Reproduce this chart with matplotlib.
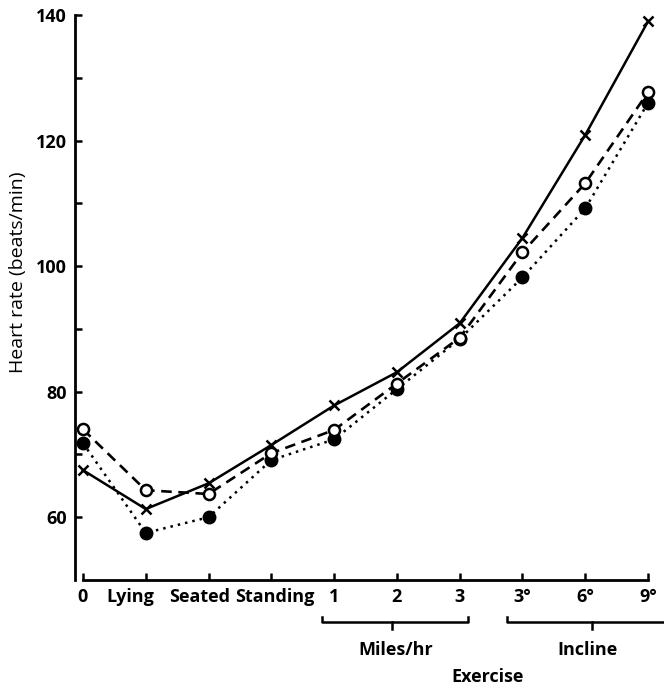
import matplotlib
matplotlib.use("Agg")
import matplotlib.pyplot as plt
import matplotlib.transforms as mtransforms
import numpy as np

# categories along the x axis
categories = ["0", "Lying", "Seated", "Standing", "1", "2", "3", "3°", "6°", "9°"]

# heart rate (beats/min)
rate_cross = [67.5, 61.3, 65.4, 71.5, 77.8, 83.1, 90.9, 104.5, 120.9, 139.0]
rate_open = [74.0, 64.3, 63.7, 70.2, 73.9, 81.3, 88.6, 102.2, 113.2, 127.7]
rate_filled = [71.8, 57.5, 60.0, 69.1, 72.4, 80.4, 88.4, 98.2, 109.2, 126.0]

y_major = [60, 80, 100, 120, 140]
y_minor = [70, 90, 110, 130]

plt.rcParams["font.family"] = ["Open Sans", "DejaVu Sans"]
FS = 13

fig = plt.figure(figsize=(6.64, 6.88), dpi=100)
ax = fig.add_axes([75 / 664, 1 - 580 / 688, 585 / 664, 565 / 688])

x = np.arange(len(categories))
ax.plot(x, rate_cross, color="black", linestyle="-", linewidth=1.8,
        marker="x", markersize=7, markeredgewidth=1.8, clip_on=False, zorder=3)
ax.plot(x, rate_open, color="black", linestyle=(0, (4, 2.5)), linewidth=1.9,
        marker="o", markersize=8, markerfacecolor="white", markeredgecolor="black",
        markeredgewidth=1.8, clip_on=False, zorder=4)
ax.plot(x, rate_filled, color="black", linestyle=(0, (1, 2)), linewidth=1.8,
        marker="o", markersize=9, markerfacecolor="black", markeredgecolor="black",
        clip_on=False, zorder=2)

ax.set_xlim(-0.127, 9.19)
ax.set_ylim(50, 140)

for side in ["top", "right"]:
    ax.spines[side].set_visible(False)
ax.spines["left"].set_linewidth(2.0)
ax.spines["bottom"].set_linewidth(2.0)
ax.spines["left"].set_bounds(50, 140)
ax.spines["bottom"].set_bounds(0, 9)

ax.set_xticks(x, categories)
ax.set_yticks(y_major)
ax.set_yticks(y_minor, minor=True)
ax.tick_params(axis="x", direction="in", length=5, width=1.8, pad=6, labelsize=FS)
ax.tick_params(axis="y", which="both", direction="in", length=5, width=1.8, pad=6, labelsize=FS)
for lab in ax.get_xticklabels() + ax.get_yticklabels():
    lab.set_fontweight("bold")

# the three posture labels sit a little left of their ticks in the original
shifts = {"Lying": -15, "Seated": -9, "Standing": 3}
for lab in ax.get_xticklabels():
    dx = shifts.get(lab.get_text(), 0)
    if dx:
        lab.set_transform(lab.get_transform() + mtransforms.ScaledTranslation(dx / 100, 0, fig.dpi_scale_trans))

ax.set_ylabel("Heart rate (beats/min)", fontsize=14)
ax.yaxis.set_label_coords(-0.082, 0.545)

# brackets under the exercise groups
trans = mtransforms.blended_transform_factory(ax.transData, ax.transAxes)
yb = -0.074
up = 0.008
brackets = [(3.81, 6.13, 4.92), (6.75, 9.4, 8.11)]
for x0, x1, xm in brackets:
    ax.plot([x0, x0, x1, x1], [yb + up, yb, yb, yb + up], color="black",
            linewidth=1.8, transform=trans, clip_on=False)
    ax.plot([xm, xm], [yb, yb - 0.012], color="black", linewidth=1.8,
            transform=trans, clip_on=False)

ax.text(4.98, -0.124, "Miles/hr", transform=trans, ha="center", va="center",
        fontsize=FS, fontweight="bold")
ax.text(8.03, -0.124, "Incline", transform=trans, ha="center", va="center",
        fontsize=FS, fontweight="bold")
ax.text(6.45, -0.172, "Exercise", transform=trans, ha="center", va="center",
        fontsize=FS, fontweight="bold")

fig.savefig("out.png", dpi=100)
